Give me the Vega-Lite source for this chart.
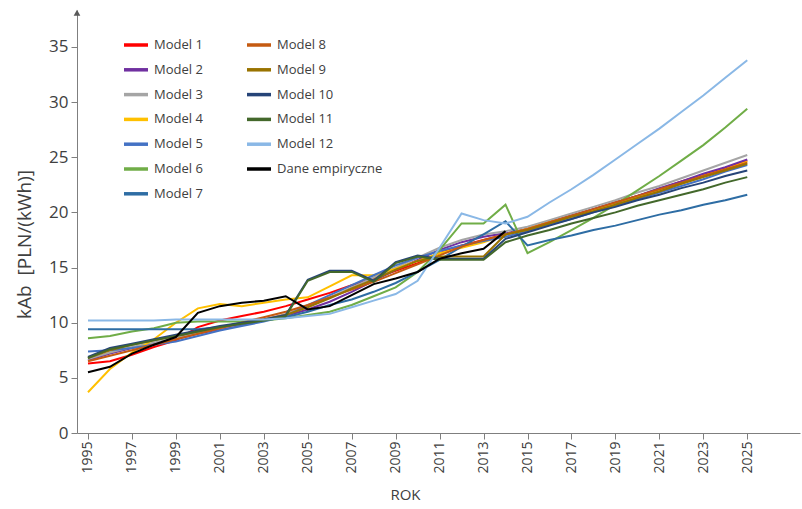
{
  "$schema": "https://vega.github.io/schema/vega-lite/v6.json",
  "width": 723,
  "height": 423,
  "autosize": {"type": "none"},
  "padding": {"left": 77, "top": 10, "right": 2, "bottom": 76},
  "background": "white",
  "config": {
    "view": {"stroke": null},
    "font": "Open Sans",
    "axis": {
      "grid": false,
      "domainColor": "#7f7f7f",
      "tickColor": "#7f7f7f",
      "labelColor": "#404040",
      "titleColor": "#404040",
      "titleFontWeight": "normal",
      "tickSize": 6
    }
  },
  "data": {
    "values": [
      {"year": 1995, "Model 1": 6.3, "Model 2": 6.6, "Model 3": 6.7, "Model 4": 3.7, "Model 5": 7.4, "Model 6": 8.6, "Model 7": 9.4, "Model 8": 6.5, "Model 9": 6.8, "Model 10": 6.9, "Model 11": 6.8, "Model 12": 10.2, "Dane empiryczne": 5.5},
      {"year": 1996, "Model 1": 6.5, "Model 2": 7.2, "Model 3": 7.3, "Model 4": 5.8, "Model 5": 7.5, "Model 6": 8.8, "Model 7": 9.4, "Model 8": 7.0, "Model 9": 7.5, "Model 10": 7.7, "Model 11": 7.6, "Model 12": 10.2, "Dane empiryczne": 6.0},
      {"year": 1997, "Model 1": 7.1, "Model 2": 7.7, "Model 3": 7.8, "Model 4": 7.3, "Model 5": 7.7, "Model 6": 9.2, "Model 7": 9.4, "Model 8": 7.5, "Model 9": 8.0, "Model 10": 8.1, "Model 11": 8.0, "Model 12": 10.2, "Dane empiryczne": 7.2},
      {"year": 1998, "Model 1": 7.8, "Model 2": 8.1, "Model 3": 8.2, "Model 4": 8.5, "Model 5": 8.0, "Model 6": 9.5, "Model 7": 9.4, "Model 8": 8.0, "Model 9": 8.4, "Model 10": 8.5, "Model 11": 8.4, "Model 12": 10.2, "Dane empiryczne": 8.0},
      {"year": 1999, "Model 1": 8.4, "Model 2": 8.5, "Model 3": 8.6, "Model 4": 10.0, "Model 5": 8.3, "Model 6": 10.0, "Model 7": 9.4, "Model 8": 8.5, "Model 9": 8.8, "Model 10": 8.9, "Model 11": 8.8, "Model 12": 10.3, "Dane empiryczne": 8.7},
      {"year": 2000, "Model 1": 9.6, "Model 2": 9.0, "Model 3": 9.1, "Model 4": 11.3, "Model 5": 8.8, "Model 6": 10.1, "Model 7": 9.4, "Model 8": 9.0, "Model 9": 9.2, "Model 10": 9.3, "Model 11": 9.2, "Model 12": 10.3, "Dane empiryczne": 10.9},
      {"year": 2001, "Model 1": 10.2, "Model 2": 9.4, "Model 3": 9.5, "Model 4": 11.7, "Model 5": 9.3, "Model 6": 10.1, "Model 7": 9.6, "Model 8": 9.5, "Model 9": 9.6, "Model 10": 9.7, "Model 11": 9.6, "Model 12": 10.3, "Dane empiryczne": 11.5},
      {"year": 2002, "Model 1": 10.6, "Model 2": 9.8, "Model 3": 9.9, "Model 4": 11.5, "Model 5": 9.7, "Model 6": 10.1, "Model 7": 9.9, "Model 8": 10.0, "Model 9": 10.0, "Model 10": 10.0, "Model 11": 9.9, "Model 12": 10.3, "Dane empiryczne": 11.8},
      {"year": 2003, "Model 1": 11.0, "Model 2": 10.2, "Model 3": 10.3, "Model 4": 11.8, "Model 5": 10.1, "Model 6": 10.2, "Model 7": 10.2, "Model 8": 10.5, "Model 9": 10.3, "Model 10": 10.3, "Model 11": 10.2, "Model 12": 10.3, "Dane empiryczne": 12.0},
      {"year": 2004, "Model 1": 11.5, "Model 2": 10.6, "Model 3": 10.8, "Model 4": 12.1, "Model 5": 10.6, "Model 6": 10.4, "Model 7": 10.5, "Model 8": 11.0, "Model 9": 10.7, "Model 10": 10.7, "Model 11": 10.6, "Model 12": 10.4, "Dane empiryczne": 12.4},
      {"year": 2005, "Model 1": 12.1, "Model 2": 11.2, "Model 3": 11.5, "Model 4": 12.3, "Model 5": 11.6, "Model 6": 10.7, "Model 7": 11.0, "Model 8": 11.6, "Model 9": 11.4, "Model 10": 13.9, "Model 11": 13.8, "Model 12": 10.6, "Dane empiryczne": 11.2},
      {"year": 2006, "Model 1": 12.7, "Model 2": 11.9, "Model 3": 12.3, "Model 4": 13.3, "Model 5": 12.5, "Model 6": 11.0, "Model 7": 11.6, "Model 8": 12.3, "Model 9": 12.2, "Model 10": 14.7, "Model 11": 14.6, "Model 12": 10.8, "Dane empiryczne": 11.5},
      {"year": 2007, "Model 1": 13.4, "Model 2": 12.8, "Model 3": 13.2, "Model 4": 14.3, "Model 5": 13.4, "Model 6": 11.6, "Model 7": 12.1, "Model 8": 13.0, "Model 9": 13.1, "Model 10": 14.7, "Model 11": 14.6, "Model 12": 11.4, "Dane empiryczne": 12.5},
      {"year": 2008, "Model 1": 14.0, "Model 2": 13.8, "Model 3": 14.1, "Model 4": 14.3, "Model 5": 14.3, "Model 6": 12.4, "Model 7": 12.8, "Model 8": 13.7, "Model 9": 13.9, "Model 10": 13.8, "Model 11": 13.7, "Model 12": 12.0, "Dane empiryczne": 13.5},
      {"year": 2009, "Model 1": 14.7, "Model 2": 14.8, "Model 3": 15.0, "Model 4": 14.9, "Model 5": 15.2, "Model 6": 13.2, "Model 7": 13.6, "Model 8": 14.5, "Model 9": 14.8, "Model 10": 15.5, "Model 11": 15.4, "Model 12": 12.6, "Dane empiryczne": 14.0},
      {"year": 2010, "Model 1": 15.4, "Model 2": 15.7, "Model 3": 15.9, "Model 4": 15.6, "Model 5": 15.9, "Model 6": 14.6, "Model 7": 14.6, "Model 8": 15.3, "Model 9": 15.6, "Model 10": 16.1, "Model 11": 16.0, "Model 12": 13.8, "Dane empiryczne": 14.6},
      {"year": 2011, "Model 1": 16.3, "Model 2": 16.6, "Model 3": 16.8, "Model 4": 16.3, "Model 5": 16.5, "Model 6": 16.6, "Model 7": 15.7, "Model 8": 16.1, "Model 9": 16.0, "Model 10": 15.8, "Model 11": 15.7, "Model 12": 16.8, "Dane empiryczne": 15.8},
      {"year": 2012, "Model 1": 17.0, "Model 2": 17.3, "Model 3": 17.5, "Model 4": 16.8, "Model 5": 17.0, "Model 6": 19.0, "Model 7": 16.9, "Model 8": 16.9, "Model 9": 16.0, "Model 10": 15.8, "Model 11": 15.7, "Model 12": 19.9, "Dane empiryczne": 16.3},
      {"year": 2013, "Model 1": 17.5, "Model 2": 17.8, "Model 3": 18.0, "Model 4": 17.3, "Model 5": 17.4, "Model 6": 19.0, "Model 7": 18.0, "Model 8": 17.5, "Model 9": 16.0, "Model 10": 15.8, "Model 11": 15.7, "Model 12": 19.3, "Dane empiryczne": 16.7},
      {"year": 2014, "Model 1": 18.0, "Model 2": 18.1, "Model 3": 18.3, "Model 4": 18.0, "Model 5": 17.8, "Model 6": 20.7, "Model 7": 19.2, "Model 8": 18.0, "Model 9": 18.0, "Model 10": 17.6, "Model 11": 17.3, "Model 12": 19.0, "Dane empiryczne": 18.3},
      {"year": 2015, "Model 1": 18.5, "Model 2": 18.5, "Model 3": 18.7, "Model 4": 18.5, "Model 5": 18.3, "Model 6": 16.3, "Model 7": 17.0, "Model 8": 18.5, "Model 9": 18.4, "Model 10": 18.2, "Model 11": 17.9, "Model 12": 19.6, "Dane empiryczne": null},
      {"year": 2016, "Model 1": 19.1, "Model 2": 19.1, "Model 3": 19.3, "Model 4": 19.1, "Model 5": 18.9, "Model 6": 17.3, "Model 7": 17.5, "Model 8": 19.1, "Model 9": 19.0, "Model 10": 18.8, "Model 11": 18.4, "Model 12": 20.9, "Dane empiryczne": null},
      {"year": 2017, "Model 1": 19.7, "Model 2": 19.7, "Model 3": 19.9, "Model 4": 19.6, "Model 5": 19.4, "Model 6": 18.4, "Model 7": 17.9, "Model 8": 19.7, "Model 9": 19.6, "Model 10": 19.4, "Model 11": 19.0, "Model 12": 22.1, "Dane empiryczne": null},
      {"year": 2018, "Model 1": 20.3, "Model 2": 20.3, "Model 3": 20.5, "Model 4": 20.2, "Model 5": 20.0, "Model 6": 19.5, "Model 7": 18.4, "Model 8": 20.3, "Model 9": 20.1, "Model 10": 20.0, "Model 11": 19.5, "Model 12": 23.4, "Dane empiryczne": null},
      {"year": 2019, "Model 1": 20.9, "Model 2": 20.9, "Model 3": 21.1, "Model 4": 20.8, "Model 5": 20.6, "Model 6": 20.7, "Model 7": 18.8, "Model 8": 20.9, "Model 9": 20.7, "Model 10": 20.5, "Model 11": 20.0, "Model 12": 24.8, "Dane empiryczne": null},
      {"year": 2020, "Model 1": 21.5, "Model 2": 21.5, "Model 3": 21.8, "Model 4": 21.4, "Model 5": 21.2, "Model 6": 22.0, "Model 7": 19.3, "Model 8": 21.5, "Model 9": 21.3, "Model 10": 21.1, "Model 11": 20.6, "Model 12": 26.2, "Dane empiryczne": null},
      {"year": 2021, "Model 1": 22.1, "Model 2": 22.2, "Model 3": 22.4, "Model 4": 22.0, "Model 5": 21.8, "Model 6": 23.3, "Model 7": 19.8, "Model 8": 22.1, "Model 9": 21.9, "Model 10": 21.6, "Model 11": 21.1, "Model 12": 27.6, "Dane empiryczne": null},
      {"year": 2022, "Model 1": 22.8, "Model 2": 22.8, "Model 3": 23.1, "Model 4": 22.6, "Model 5": 22.4, "Model 6": 24.7, "Model 7": 20.2, "Model 8": 22.7, "Model 9": 22.6, "Model 10": 22.2, "Model 11": 21.6, "Model 12": 29.1, "Dane empiryczne": null},
      {"year": 2023, "Model 1": 23.4, "Model 2": 23.5, "Model 3": 23.8, "Model 4": 23.3, "Model 5": 23.0, "Model 6": 26.1, "Model 7": 20.7, "Model 8": 23.3, "Model 9": 23.2, "Model 10": 22.7, "Model 11": 22.1, "Model 12": 30.6, "Dane empiryczne": null},
      {"year": 2024, "Model 1": 24.0, "Model 2": 24.1, "Model 3": 24.5, "Model 4": 23.9, "Model 5": 23.7, "Model 6": 27.7, "Model 7": 21.1, "Model 8": 23.9, "Model 9": 23.8, "Model 10": 23.3, "Model 11": 22.7, "Model 12": 32.2, "Dane empiryczne": null},
      {"year": 2025, "Model 1": 24.7, "Model 2": 24.8, "Model 3": 25.2, "Model 4": 24.6, "Model 5": 24.3, "Model 6": 29.4, "Model 7": 21.6, "Model 8": 24.5, "Model 9": 24.4, "Model 10": 23.8, "Model 11": 23.2, "Model 12": 33.8, "Dane empiryczne": null}
    ]
  },
  "layer": [
    {
      "transform": [
        {"fold": ["Model 1", "Model 2", "Model 3", "Model 4", "Model 5", "Model 6", "Model 7", "Model 8", "Model 9", "Model 10", "Model 11", "Model 12", "Dane empiryczne"], "as": ["series", "value"]},
        {"filter": "isValid(datum.value)"}
      ],
      "mark": {"type": "line", "strokeWidth": 2},
      "encoding": {
        "x": {
          "field": "year",
          "type": "quantitative",
          "scale": {"domain": [1994.5, 2027.4], "nice": false, "zero": false},
          "axis": {
            "values": [1995, 1997, 1999, 2001, 2003, 2005, 2007, 2009, 2011, 2013, 2015, 2017, 2019, 2021, 2023, 2025],
            "format": "d",
            "labelAngle": -90,
            "labelFontSize": 14,
            "labelPadding": 2,
            "title": "ROK",
            "titleFontSize": 15,
            "titlePadding": 14,
            "titleX": 328
          }
        },
        "y": {
          "field": "value",
          "type": "quantitative",
          "scale": {"domain": [0, 38.35], "nice": false},
          "axis": {
            "values": [0, 5, 10, 15, 20, 25, 30, 35],
            "labelFontSize": 17,
            "labelPadding": 3,
            "title": "kAb\u00a0 [PLN/(kWh)]",
            "titleFontSize": 19,
            "titlePadding": 14,
            "titleY": 234
          }
        },
        "color": {
          "field": "series",
          "type": "nominal",
          "scale": {
            "domain": ["Model 1", "Model 2", "Model 3", "Model 4", "Model 5", "Model 6", "Model 7", "Model 8", "Model 9", "Model 10", "Model 11", "Model 12", "Dane empiryczne"],
            "range": ["#FF0000", "#7030A0", "#A5A5A5", "#FFC000", "#4472C4", "#70AD47", "#2E6DA4", "#C55A11", "#997300", "#264478", "#43682B", "#8AB8E6", "#000000"]
          },
          "legend": {
            "orient": "none",
            "legendX": 45,
            "legendY": 21,
            "columns": 2,
            "title": null,
            "padding": 0,
            "symbolType": "stroke",
            "symbolStrokeWidth": 3.5,
            "symbolSize": 576,
            "labelFontSize": 13,
            "labelColor": "#404040",
            "labelOffset": 4,
            "columnPadding": 37,
            "rowPadding": 3.8
          }
        }
      }
    },
    {
      "data": {"values": [{}]},
      "mark": {"type": "point", "shape": "triangle-up", "filled": true, "size": 45, "color": "#595959", "opacity": 1},
      "encoding": {
        "x": {"datum": 1994.5, "type": "quantitative"},
        "y": {"datum": 38.1, "type": "quantitative"}
      }
    }
  ]
}
